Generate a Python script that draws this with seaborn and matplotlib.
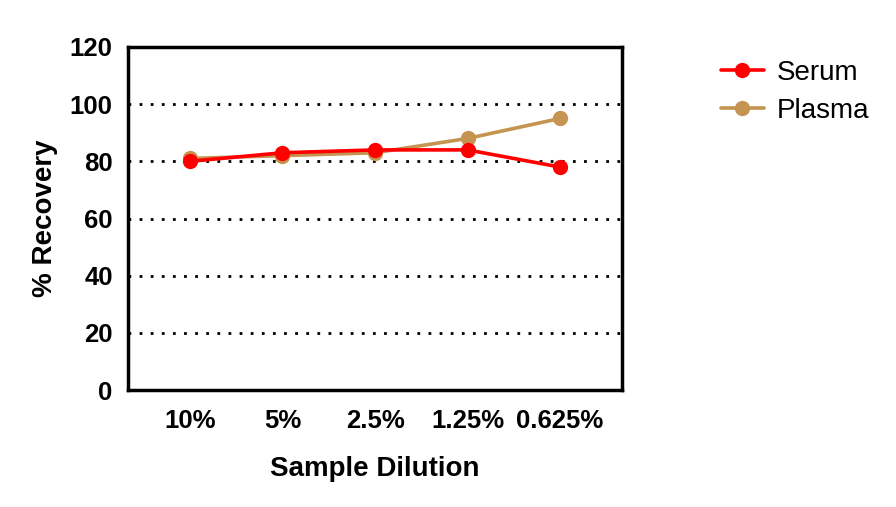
import matplotlib
matplotlib.use("Agg")
import matplotlib.pyplot as plt
import seaborn as sns
import pandas as pd

dilutions = ["10%", "5%", "2.5%", "1.25%", "0.625%"]
serum = [80, 83, 84, 84, 78]
plasma = [81, 82, 83, 88, 95]
y_ticks = [0, 20, 40, 60, 80, 100, 120]
grid_levels = [20, 40, 60, 80, 100]

sns.set_style("white")
plt.rcParams['font.family'] = ['Liberation Sans', 'DejaVu Sans']
plt.rcParams['text.color'] = 'black'
plt.rcParams['axes.labelcolor'] = 'black'
plt.rcParams['xtick.color'] = 'black'
plt.rcParams['ytick.color'] = 'black'

serum_color = "#FF0000"
plasma_color = "#C49450"

fig = plt.figure(figsize=(8.96, 5.07), dpi=100)
ax = fig.add_axes([128/896, 1-390/507, (622-128)/896, (390-47)/507])

df_s = pd.DataFrame({"Dilution": dilutions, "Recovery": serum})
df_p = pd.DataFrame({"Dilution": dilutions, "Recovery": plasma})

for g in grid_levels:
    ax.axhline(g, color="black", linestyle=(0, (1, 3)), linewidth=2.0, zorder=1)

sns.lineplot(data=df_s, x="Dilution", y="Recovery", color=serum_color, marker="o",
             markersize=11, markeredgewidth=0, linewidth=2.6, ax=ax, label="Serum", zorder=4)
sns.lineplot(data=df_p, x="Dilution", y="Recovery", color=plasma_color, marker="o",
             markersize=11, markeredgewidth=0, linewidth=2.6, ax=ax, label="Plasma", zorder=3)

ax.set_xlim(-0.67, 4.67)
ax.set_ylim(0, 120)
ax.set_yticks(y_ticks)
ax.set_xticks(range(len(dilutions)))
ax.set_xticklabels(dilutions)

for sp in ax.spines.values():
    sp.set_linewidth(2.5)
    sp.set_color("black")

ax.tick_params(axis="both", which="major", direction="out", length=8, width=2.5,
               colors="black", labelsize=18.5)
ax.tick_params(axis="x", pad=6)
ax.tick_params(axis="y", pad=3)
for lab in ax.get_xticklabels() + ax.get_yticklabels():
    lab.set_fontweight("bold")

ax.set_xlabel("Sample Dilution", fontsize=20, fontweight="bold")
ax.set_ylabel("% Recovery", fontsize=20, fontweight="bold")
ax.xaxis.set_label_coords(0.5, -0.193)
ax.yaxis.set_label_coords(-0.142, 0.5)

leg = ax.legend(loc="upper left", bbox_to_anchor=(1.2, 0.962), frameon=False,
                fontsize=20, handlelength=1.55, handletextpad=0.47, labelspacing=0.42,
                borderpad=0, borderaxespad=0)

fig.savefig("out.png", dpi=100)
